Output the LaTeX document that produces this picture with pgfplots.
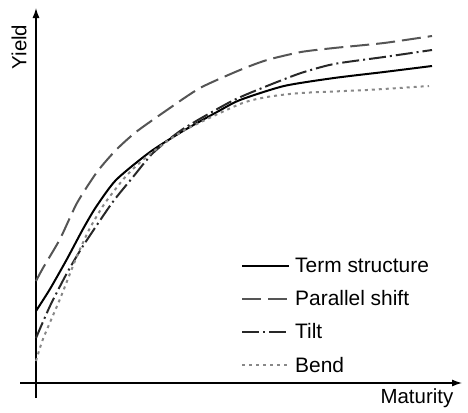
\documentclass[border=0pt]{standalone}
\usepackage{fontspec}
\setmainfont{Liberation Sans}
\usepackage{pgfplots}
\pgfplotsset{compat=1.18}
\usetikzlibrary{arrows.meta}
\begin{document}
\begin{tikzpicture}
\begin{axis}[
  x=1bp, y=1bp,
  xmin=-16, xmax=426, ymin=-15, ymax=375,
  enlargelimits=false,
  axis lines=middle,
  axis line style={line width=1.2bp, -{Latex[length=10bp,width=7bp]}},
  xtick=\empty, ytick=\empty,
  clip=false,
  font=\fontsize{20.5}{24}\selectfont,
  xlabel={Maturity}, ylabel={Yield},
  xlabel style={at={(axis description cs:0.898,0.0)}, anchor=center},
  ylabel style={at={(axis description cs:-0.002,0.9)}, anchor=center, rotate=90},
  legend style={draw=none, fill=none, at={(axis cs:205,127)}, anchor=north west,
     font=\fontsize{21}{24}\selectfont, row sep=12.5bp, inner sep=0pt},
  legend cell align=left,
  legend image code/.code={\draw[#1] (0bp,0bp) -- (47bp,0bp); \path (50bp,0bp);},
]
\addplot[black, line width=2bp, smooth, tension=0.4] coordinates {
(0,72) (14,94) (31,124) (47,154) (60,176) (80,203) (114,231) (147,252) (181,271) (204,283) (248,297) (298,305) (348,311) (396,317)};
\addlegendentry{Term structure}
\addplot[color={rgb,255:red,85;green,85;blue,85}, line width=2bp, smooth, tension=0.4, dash pattern=on 19bp off 7bp] coordinates {
(0,102) (7,115) (24,144) (41,180) (61,211) (80,233) (100,251) (131,273) (164,295) (204,313) (231,323) (265,331) (298,335) (348,340) (396,347)};
\addlegendentry{Parallel shift}
\addplot[color={rgb,255:red,40;green,40;blue,40}, line width=2bp, smooth, tension=0.4, dash pattern=on 17bp off 4bp on 2bp off 4bp] coordinates {
(0,45) (14,77) (31,110) (47,137) (76,180) (97,206) (117,230) (147,254) (196,282) (231,297) (265,310) (298,319) (348,326) (396,333)};
\addlegendentry{Tilt}
\addplot[color={rgb,255:red,136;green,136;blue,136}, line width=2bp, smooth, tension=0.4, dash pattern=on 3bp off 4bp] coordinates {
(0,22) (7,44) (24,84) (41,127) (54,155) (69,180) (91,208) (114,229) (147,252) (204,279) (231,286) (265,290) (331,293) (393,297)};
\addlegendentry{Bend}
\path (axis cs:-36,-29) rectangle (axis cs:432,383);
\end{axis}
\end{tikzpicture}
\end{document}
